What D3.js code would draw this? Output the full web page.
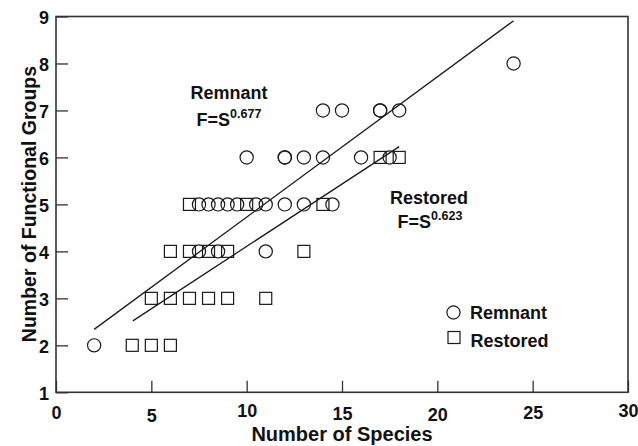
<!DOCTYPE html>
<html><head><meta charset="utf-8">
<script src="https://cdn.jsdelivr.net/npm/d3@7"></script>
<style>
body{margin:0;background:#fff}
text{font-family:"Liberation Sans",Arial,Helvetica,sans-serif;font-weight:bold;fill:#111}
</style>
</head><body><svg id="c" width="638" height="446"></svg>
<script>
// ---- data ----
const xTicks = [0, 5, 10, 15, 20, 25, 30];
const yTicks = [1, 2, 3, 4, 5, 6, 7, 8, 9];
const remnantSpecies = [2, 7.5, 8.5, 11, 7.5, 8, 8.5, 9, 9.5, 10.5, 11, 12, 13, 14.5, 10, 12, 12, 13, 14, 16, 17.5, 14, 15, 17, 17, 18, 24];
const remnantGroups  = [2, 4, 4, 4, 5, 5, 5, 5, 5, 5, 5, 5, 5, 5, 6, 6, 6, 6, 6, 6, 6, 7, 7, 7, 7, 7, 8];
const restoredSpecies = [4, 5, 6, 5, 6, 7, 8, 9, 11, 6, 7, 8, 9, 13, 7, 10, 14, 17, 18];
const restoredGroups  = [2, 2, 2, 3, 3, 3, 3, 3, 3, 4, 4, 4, 4, 4, 5, 5, 5, 6, 6];
const remnantFitS = [2, 24],   remnantFitF = [2.34, 8.91];
const restoredFitS = [4.03, 18], restoredFitF = [2.52, 6.23];
const seriesNames = ["Remnant", "Restored"];
const fitLabels = ["0.677", "0.623"];

// ---- layout ----
const svg = d3.select("#c");
const L = 56, R = 628, T = 16.5, B = 392.3;
const x = d3.scaleLinear().domain([0, 30]).range([L, R]);
const y = d3.scaleLinear().domain([1, 9]).range([B, T]);
const ink = "#1a1a1a";

// axes
const xAxis = d3.axisBottom(x).tickValues(xTicks).tickSizeInner(-11.5).tickSizeOuter(0).tickPadding(13.5);
const gx = svg.append("g").attr("transform", `translate(0,${B})`).call(xAxis);
const xJit = [0, 3.5, -2, 1, 2.5, 0, -2];
gx.selectAll(".tick text").attr("font-size", 18).attr("fill", "#111")
  .attr("transform", (d, i) => `translate(0,${xJit[i]})`);

const yAxis = d3.axisLeft(y).tickValues(yTicks).tickSizeInner(-12).tickSizeOuter(0).tickPadding(7);
const gy = svg.append("g").attr("transform", `translate(${L},0)`).call(yAxis);
gy.selectAll(".tick text").attr("font-size", 18).attr("fill", "#111").attr("dy", "0.40em");

[gx, gy].forEach(g => {
  g.select(".domain").remove();
  g.selectAll(".tick line").attr("stroke", "#333").attr("stroke-width", 1.3);
  g.attr("font-family", null);
});

// frame
svg.append("rect").attr("x", L).attr("y", T).attr("width", R - L).attr("height", B - T)
  .attr("fill", "none").attr("stroke", "#333").attr("stroke-width", 1.6);

// points
const rem = remnantSpecies.map((s, i) => [s, remnantGroups[i]]);
const res = restoredSpecies.map((s, i) => [s, restoredGroups[i]]);
const sq = 12;
svg.append("g").selectAll("rect").data(res).join("rect")
  .attr("x", d => x(d[0]) - sq / 2).attr("y", d => y(d[1]) - sq / 2)
  .attr("width", sq).attr("height", sq)
  .attr("fill", "none").attr("stroke", ink).attr("stroke-width", 1.2);
svg.append("g").selectAll("circle").data(rem).join("circle")
  .attr("cx", d => x(d[0])).attr("cy", d => y(d[1])).attr("r", 6.6)
  .attr("fill", "none").attr("stroke", ink).attr("stroke-width", 1.2);

// fit lines
const line = d3.line().x(d => x(d[0])).y(d => y(d[1]));
[[remnantFitS, remnantFitF], [restoredFitS, restoredFitF]].forEach(([S, F]) => {
  svg.append("path").attr("d", line(S.map((s, i) => [s, F[i]])))
    .attr("fill", "none").attr("stroke", ink).attr("stroke-width", 1.3);
});

// annotations
function eq(cx, by, exp) {
  const t = svg.append("text").attr("x", cx).attr("y", by).attr("text-anchor", "middle").attr("font-size", 18);
  t.append("tspan").text("F=S");
  t.append("tspan").attr("font-size", 12.5).attr("dy", -8).text(exp);
}
svg.append("text").attr("x", 229).attr("y", 99).attr("text-anchor", "middle").attr("font-size", 18).text(seriesNames[0]);
eq(229, 126, fitLabels[0]);
svg.append("text").attr("x", 429).attr("y", 204).attr("text-anchor", "middle").attr("font-size", 18).text(seriesNames[1]);
eq(430, 228, fitLabels[1]);

// legend
svg.append("circle").attr("cx", 453.5).attr("cy", 312.5).attr("r", 6.6)
  .attr("fill", "none").attr("stroke", ink).attr("stroke-width", 1.2);
svg.append("text").attr("x", 470).attr("y", 318.5).attr("font-size", 18).text(seriesNames[0]);
svg.append("rect").attr("x", 454 - 6).attr("y", 337.5 - 6).attr("width", 12).attr("height", 12)
  .attr("fill", "none").attr("stroke", ink).attr("stroke-width", 1.2);
svg.append("text").attr("x", 470.5).attr("y", 346.5).attr("font-size", 18).text(seriesNames[1]);

// axis titles
svg.append("text").attr("x", (L + R) / 2).attr("y", 441).attr("text-anchor", "middle").attr("font-size", 20)
  .text("Number of Species");
svg.append("text").attr("transform", "translate(36,204) rotate(-90)").attr("text-anchor", "middle").attr("font-size", 19.5)
  .text("Number of Functional Groups");
</script>
</body></html>
